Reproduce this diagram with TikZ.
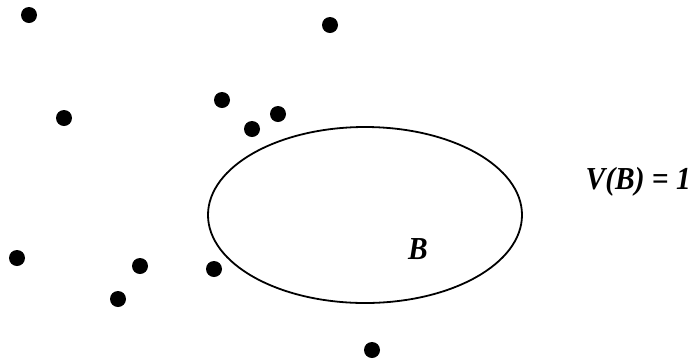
\documentclass[tikz,border=0pt]{standalone}
\usepackage{fontspec}
\setmainfont{Liberation Serif}
\usetikzlibrary{shapes.geometric}
\begin{document}
\begin{tikzpicture}[x=1pt,y=-1pt,
  pt/.style={circle,fill=black,inner sep=0pt,minimum size=16pt},
  lbl/.style={font=\fontsize{32}{34}\selectfont\bfseries\itshape,inner sep=0pt}]
\useasboundingbox (0,0) rectangle (694,360);
\node[pt] (p1) at (29,15) {};
\node[pt] (p2) at (330,25) {};
\node[pt] (p3) at (64,118) {};
\node[pt] (p4) at (222,100) {};
\node[pt] (p5) at (278,114) {};
\node[pt] (p6) at (252,129) {};
\node[pt] (p7) at (17,258) {};
\node[pt] (p8) at (140,266) {};
\node[pt] (p9) at (214,269) {};
\node[pt] (p10) at (118,299) {};
\node[pt] (p11) at (372,350) {};
\node[draw,line width=1.8pt,ellipse,minimum width=314pt,minimum height=176pt,inner sep=0pt] (e) at (365,215) {};
\node[lbl] (b) at (418,249) {\scalebox{0.92}[1]{B}};
\node[lbl,anchor=east] (v) at (691,182) {\scalebox{0.92}[1]{V(B) = 1}};
\end{tikzpicture}
\end{document}
